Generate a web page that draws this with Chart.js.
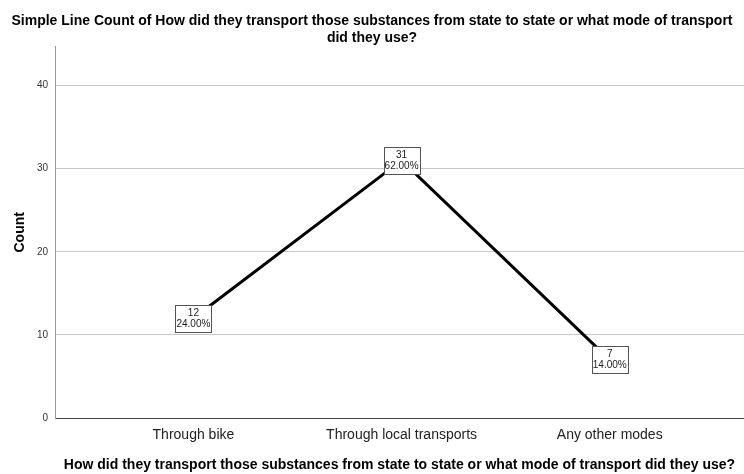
<!DOCTYPE html>
<html>
<head>
<meta charset="utf-8">
<script src="https://cdn.jsdelivr.net/npm/chart.js@4"></script>
<style>
    body { margin: 0; background: #fff; }
    canvas { display: block; }
</style>
</head>
<body>
<canvas id="lineChart" width="744" height="474"></canvas>
<script>
const categories = ['Through bike', 'Through local transports', 'Any other modes'];
const counts = [12, 31, 7];
const percents = [24.00, 62.00, 14.00];
const countTicks = [0, 10, 20, 30, 40];

const FONT = "'Liberation Sans', Arial, sans-serif";

// Boxed "count / percent" label over each point
const pointLabels = {
    id: 'pointLabels',
    afterDatasetsDraw(chart) {
        const ctx = chart.ctx;
        const meta = chart.getDatasetMeta(0);
        ctx.save();
        ctx.font = '10px ' + FONT;
        meta.data.forEach((pt, i) => {
            let line1 = String(counts[i]);
            let line2 = percents[i].toFixed(2) + '%';
            let w = Math.ceil(Math.max(ctx.measureText(line1).width, ctx.measureText(line2).width)) + 2;
            let h = 27;
            let x = Math.round(pt.x - w / 2) + 0.5;
            let y = Math.round(pt.y - h / 2) + 0.5;
            ctx.fillStyle = '#fff';
            ctx.fillRect(x, y, w, h);
            ctx.strokeStyle = '#555';
            ctx.lineWidth = 1;
            ctx.strokeRect(x, y, w, h);
            ctx.fillStyle = '#222';
            ctx.textAlign = 'center';
            ctx.textBaseline = 'middle';
            ctx.fillText(line1, pt.x, y + 8);
            ctx.fillText(line2, pt.x, y + 19);
        });
        ctx.restore();
    }
};

new Chart(document.getElementById('lineChart'), {
    type: 'line',
    data: {
        datasets: [{
            data: counts.map((c, i) => ({ x: i, y: c })),
            borderColor: '#000',
            borderWidth: 3,
            pointRadius: 0,
            tension: 0,
            fill: false
        }]
    },
    options: {
        responsive: false,
        animation: false,
        layout: { padding: 0 },
        plugins: {
            legend: { display: false },
            tooltip: { enabled: false },
            title: {
                display: true,
                text: ['Simple Line Count of How did they transport those substances from state to state or what mode of transport',
                       'did they use?'],
                color: '#000',
                font: { family: FONT, size: 14, weight: 'bold', lineHeight: 1.2 },
                padding: { top: 13, bottom: 0 }
            }
        },
        scales: {
            x: {
                type: 'linear',
                min: -0.665,
                max: 2.645,
                afterBuildTicks: axis => { axis.ticks = categories.map((c, i) => ({ value: i })); },
                afterFit: axis => { axis.height = 56; },
                ticks: {
                    callback: v => categories[v],
                    autoSkip: false,
                    maxRotation: 0,
                    padding: 9,
                    color: '#222',
                    font: { family: FONT, size: 14 }
                },
                grid: { display: false, drawTicks: false },
                border: { display: true, color: '#444', width: 1 },
                title: {
                    display: true,
                    text: 'How did they transport those substances from state to state or what mode of transport did they use?',
                    color: '#000',
                    font: { family: FONT, size: 14, weight: 'bold' },
                    padding: { top: 1, bottom: 0 }
                }
            },
            y: {
                min: 0,
                max: 44.7,
                afterBuildTicks: axis => { axis.ticks = countTicks.map(v => ({ value: v })); },
                afterFit: axis => { axis.width = 55; },
                ticks: {
                    padding: 7,
                    color: '#333',
                    font: { family: FONT, size: 10 }
                },
                grid: {
                    drawTicks: false,
                    color: c => (c.tick && c.tick.value === 0) ? 'rgba(0,0,0,0)' : '#c8c8c8'
                },
                border: { display: true, color: '#999', width: 1 },
                title: {
                    display: true,
                    text: 'Count',
                    color: '#000',
                    font: { family: FONT, size: 14, weight: 'bold' },
                    padding: { top: 12, bottom: 0 }
                }
            }
        }
    },
    plugins: [pointLabels]
});
</script>
</body>
</html>
